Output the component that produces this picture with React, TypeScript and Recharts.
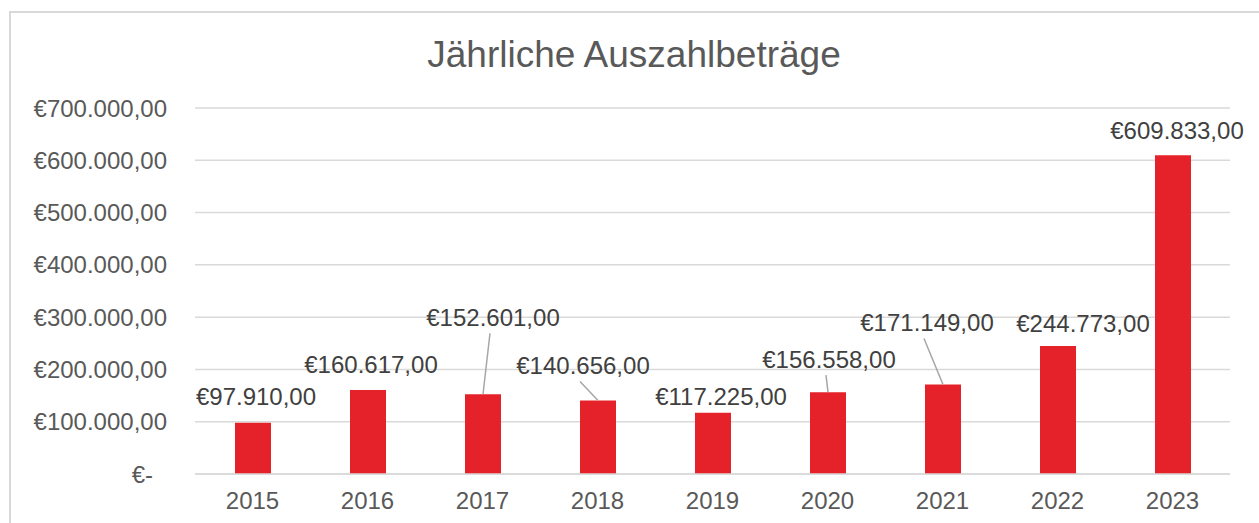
import React from "react";
import { BarChart, Bar, XAxis, YAxis, CartesianGrid, LabelList } from "recharts";

const years = ["2015", "2016", "2017", "2018", "2019", "2020", "2021", "2022", "2023"];
const payouts = [97910, 160617, 152601, 140656, 117225, 156558, 171149, 244773, 609833];
const yTicks = [0, 100000, 200000, 300000, 400000, 500000, 600000, 700000];

// label placement relative to top-centre of each bar (layout config)
const labelDx = [3, 3, 10, -15, 8, 1, -16, 25, 4];
const labelDy = [-26, -26, -77, -35, -16, -33, -62, -23, -25];
const hasLeader = [false, false, true, true, false, true, true, false, false];

const data = years.map((y, i) => ({ year: y, value: payouts[i] }));

const fmtEuro = (v: number) => {
  if (v === 0) return "€-";
  const fixed = v.toFixed(2);
  const [intPart, dec] = fixed.split(".");
  const withDots = intPart.replace(/\B(?=(\d{3})+(?!\d))/g, ".");
  return `€${withDots},${dec}`;
};

const FONT = "'Liberation Sans', Arial, sans-serif";

const YTick = (props: any) => {
  const { x, y, payload } = props;
  const v = payload.value as number;
  const shift = v === 0 ? -14 : 0;
  return (
    <text x={x + shift} y={y + 8.6} textAnchor="end" fill="#595959" fontSize={24} fontFamily={FONT}>
      {fmtEuro(v)}
    </text>
  );
};

const XTick = (props: any) => {
  const { x, y, payload } = props;
  return (
    <text x={x} y={y + 34.5} textAnchor="middle" fill="#595959" fontSize={24} fontFamily={FONT}>
      {payload.value}
    </text>
  );
};

const BarLabel = (props: any) => {
  const { x, y, width, index, value } = props;
  const cx = x + width / 2;
  const lx = cx + labelDx[index];
  const ly = y + labelDy[index];
  return (
    <g>
      {hasLeader[index] && (
        <line x1={lx - 3} y1={ly + 16} x2={cx} y2={y} stroke="#a6a6a6" strokeWidth={1.5} />
      )}
      <text x={lx} y={ly + 8.6} textAnchor="middle" fill="#404040" fontSize={24} fontFamily={FONT}>
        {fmtEuro(value)}
      </text>
    </g>
  );
};

export default function App() {
  return (
    <div style={{ position: "absolute", left: 0, top: 0, width: 1259, height: 523, overflow: "hidden", background: "#fff" }}>
      <div
        style={{
          position: "absolute",
          left: 9,
          top: 11,
          width: 1300,
          height: 600,
          border: "2px solid #d9d9d9",
          boxSizing: "border-box",
        }}
      />
      <div
        style={{
          position: "absolute",
          left: 634 - 300,
          width: 600,
          top: 36,
          textAlign: "center",
          fontFamily: FONT,
          fontSize: 37,
          color: "#595959",
          lineHeight: "37px",
        }}
      >
        Jährliche Auszahlbeträge
      </div>
      <div style={{ position: "absolute", left: 0, top: 0 }}>
        <BarChart
          width={1259}
          height={523}
          data={data}
          margin={{ top: 108, right: 29, bottom: 0, left: 0 }}
          barCategoryGap={0}
        >
          <CartesianGrid vertical={false} stroke="#d9d9d9" strokeWidth={1.5} />
          <XAxis
            dataKey="year"
            axisLine={{ stroke: "#d9d9d9", strokeWidth: 1.5 }}
            tickLine={false}
            tick={<XTick />}
            tickSize={0}
            tickMargin={0}
            height={49}
            interval={0}
          />
          <YAxis
            domain={[0, 700000]}
            ticks={yTicks}
            axisLine={false}
            tickLine={false}
            tickSize={0}
            tickMargin={28}
            width={195}
            tick={<YTick />}
            interval={0}
          />
          <Bar dataKey="value" fill="#E5222A" barSize={36} isAnimationActive={false}>
            <LabelList dataKey="value" content={<BarLabel />} />
          </Bar>
        </BarChart>
      </div>
    </div>
  );
}
